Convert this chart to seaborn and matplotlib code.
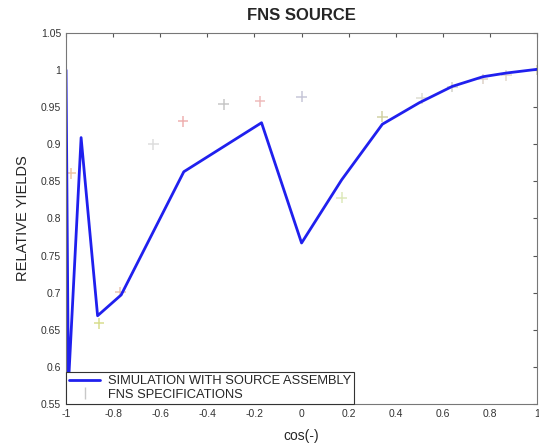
import numpy as np
import pandas as pd
import matplotlib
matplotlib.use('Agg')
import matplotlib.pyplot as plt
import seaborn as sb
from matplotlib.lines import Line2D

# Simulation curve (blue line)
sim_cos = [-1.0, -0.99, -0.936, -0.866, -0.766, -0.5, -0.17, 0.0, 0.17, 0.343, 0.5, 0.64, 0.77, 0.87, 1.0]
sim_yield = [1.0, 0.575, 0.909, 0.669, 0.697, 0.863, 0.929, 0.767, 0.852, 0.927, 0.956, 0.978, 0.991, 0.996, 1.001]

# FNS specifications (faint crosses)
spec_cos = [-0.979, -0.86, -0.77, -0.63, -0.503, -0.33, -0.176, 0.0, 0.17, 0.343, 0.51, 0.64, 0.77, 0.87, 1.0]
spec_yield = [0.861, 0.659, 0.701, 0.90, 0.931, 0.954, 0.958, 0.964, 0.828, 0.937, 0.962, 0.977, 0.988, 0.993, 1.0]
spec_colors = ['#e8b080', '#c8d060', '#e0b090', '#d0d0d0', '#e89090', '#b0b0b0', '#e8a0a0',
               '#b0b0c8', '#d0e0a0', '#c0c080', '#d0d0c0', '#c0c0b0', '#d0c0b0', '#d8c8b8', '#c8c090']

xticks = [-1, -0.8, -0.6, -0.4, -0.2, 0, 0.2, 0.4, 0.6, 0.8, 1]
xtick_labels = ['-1', '-0.8', '-0.6', '-0.4', '-0.2', '0', '0.2', '0.4', '0.6', '0.8', '1']
yticks = [0.55, 0.6, 0.65, 0.7, 0.75, 0.8, 0.85, 0.9, 0.95, 1.0, 1.05]
ytick_labels = ['0.55', '0.6', '0.65', '0.7', '0.75', '0.8', '0.85', '0.9', '0.95', '1', '1.05']

sim = pd.DataFrame({'cos': sim_cos, 'yield': sim_yield})
spec = pd.DataFrame({'cos': spec_cos, 'yield': spec_yield})

sb.set_style('white')
plt.rcParams['font.family'] = ['Liberation Sans', 'DejaVu Sans']

fig = plt.figure(figsize=(5.39, 4.45), dpi=100)
ax = fig.add_axes([0.1225, 0.092, 0.874, 0.834])

sb.lineplot(data=sim, x='cos', y='yield', ax=ax, color='#2020ee', linewidth=2, sort=False)
ax.scatter(spec['cos'], spec['yield'], marker='+', s=60, c=spec_colors, linewidths=1.1,
           alpha=0.7, zorder=1)

ax.set_xlim(-1, 1)
ax.set_ylim(0.55, 1.05)
ax.set_xticks(xticks)
ax.set_xticklabels(xtick_labels)
ax.set_yticks(yticks)
ax.set_yticklabels(ytick_labels)
ax.tick_params(direction='in', length=3, labelsize=7.5, top=True, right=True, colors='#555555',
               labelcolor='#333333')
for s in ax.spines.values():
    s.set_color('#777777')
    s.set_linewidth(0.8)

ax.set_title('FNS SOURCE', fontsize=12, fontweight='bold', pad=9)
ax.set_xlabel('cos(-)', fontsize=10, labelpad=7)
ax.set_ylabel('RELATIVE YIELDS', fontsize=10.5, labelpad=8)

handles = [Line2D([0], [0], color='#2020ee', lw=2),
           Line2D([0], [0], color='#c8c8c8', marker='|', lw=0, markersize=8)]
leg = ax.legend(handles, ['SIMULATION WITH SOURCE ASSEMBLY', 'FNS SPECIFICATIONS'],
                loc='lower left', fontsize=9.3, fancybox=False, framealpha=1,
                borderaxespad=0, handlelength=2.4, handletextpad=0.6, borderpad=0.25,
                labelspacing=0.1)
leg.get_frame().set_edgecolor('#333333')
leg.get_frame().set_linewidth(0.8)

fig.savefig('out.png', dpi=100)
